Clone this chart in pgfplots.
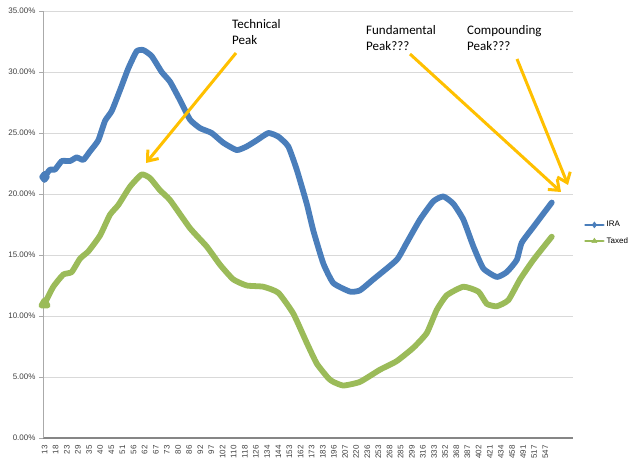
\documentclass[border=0pt]{standalone}
\usepackage{fontspec}
\setmainfont{Carlito}
\newfontfamily\tickfont{Liberation Sans}
\usepackage{pgfplots}
\pgfplotsset{compat=1.18}
\usetikzlibrary{arrows.meta}
\definecolor{irablue}{HTML}{4A7EBB}
\definecolor{taxgreen}{HTML}{9BBB59}
\definecolor{arrowgold}{HTML}{FFC000}
\definecolor{gridgray}{HTML}{D9D9D9}
\definecolor{axisgray}{HTML}{868686}
\definecolor{ticktext}{HTML}{404040}
\begin{document}
\begin{tikzpicture}
\path[use as bounding box] (0pt,0pt) rectangle (640pt,464pt);
\begin{axis}[
  at={(43pt,26pt)}, anchor=south west,
  scale only axis, width=530pt, height=427pt,
  xmin=-0.135, xmax=47.48, ymin=0, ymax=35,
  axis x line*=bottom, axis y line*=left,
  x axis line style={-, line width=2.5pt, draw=axisgray},
  y axis line style={-, line width=0.8pt, draw=axisgray!70},
  ytick={0,5,...,35},
  yticklabels={0.00\%,5.00\%,10.00\%,15.00\%,20.00\%,25.00\%,30.00\%,35.00\%},
  yticklabel style={font=\tickfont\fontsize{8}{9}\selectfont, text=ticktext},
  ymajorgrids, grid style={draw=gridgray, line width=0.9pt},
  major y tick style={draw=axisgray!70, line width=0.8pt},
  tick align=outside, major tick length=4pt,
  xtick={0,...,45},
  xticklabels={13,18,23,29,35,40,45,51,56,62,67,73,80,86,92,97,102,110,118,126,134,144,153,162,173,183,196,207,220,236,253,268,285,299,316,333,352,368,387,402,421,434,458,491,517,547},
  xticklabel style={rotate=90, anchor=east, font=\tickfont\fontsize{8}{9}\selectfont, text=ticktext},
  major x tick style={draw=none},
  legend style={at={(1.015,0.48)}, anchor=west, draw=none, fill=none,
    font=\tickfont\fontsize{8}{9}\selectfont, row sep=5pt},
  legend cell align=left,
  legend image code/.code={
    \draw[#1, line width=2.5pt, mark=none] (0pt,0pt) -- (18pt,0pt);
    \draw[#1, mark size=3pt, line width=0.5pt] plot coordinates {(9pt,0pt)};
  },
]
\addplot[color=irablue, line width=5.8pt, line join=round, line cap=round, smooth, tension=0.3, mark=diamond*, mark repeat=1000, mark size=3pt] table {
x y
0 21.4
0.49 22.0
0.94 22.0
1.55 22.7
2.29 22.7
2.89 23.0
3.49 22.8
4.09 23.5
4.83 24.4
5.44 26.0
6.04 26.8
6.78 28.5
7.53 30.3
8.28 31.7
8.88 31.8
9.63 31.3
10.53 30.0
11.28 29.2
12.17 27.7
13.07 26.1
13.97 25.4
15.02 25.0
16.06 24.2
17.27 23.6
18.17 23.9
19.07 24.4
20.11 25.0
21.01 24.7
21.90 23.9
22.66 22.0
23.56 19.2
24.15 17.0
25.05 14.3
25.95 12.7
27.45 12.0
28.34 12.1
29.54 13.0
31.64 14.6
32.54 16.0
33.73 17.9
34.93 19.4
35.83 19.8
36.73 19.2
37.63 17.9
38.53 15.7
39.42 13.9
40.63 13.2
41.53 13.6
42.43 14.6
42.87 16.0
43.92 17.3
45.57 19.3
};
\addlegendentry{IRA}
\addplot[color=taxgreen, line width=5.8pt, line join=round, line cap=round, smooth, tension=0.3, mark=triangle*, mark repeat=1000, mark size=3.5pt] table {
x y
0 11.0
0.79 12.4
1.69 13.4
2.44 13.6
3.19 14.7
3.94 15.3
4.99 16.6
5.88 18.3
6.63 19.1
7.68 20.6
8.73 21.6
9.48 21.3
10.38 20.3
11.28 19.5
13.07 17.2
14.57 15.7
15.77 14.2
16.96 13.0
18.17 12.5
19.66 12.4
21.01 11.9
22.35 10.2
23.56 7.8
24.46 6.1
25.50 4.9
25.95 4.6
26.85 4.3
28.34 4.6
30.14 5.6
31.64 6.3
33.14 7.4
34.34 8.6
35.24 10.5
36.14 11.7
37.63 12.4
38.98 12.0
39.73 11.0
40.63 10.8
41.67 11.3
42.72 13.0
43.92 14.6
45.57 16.5
};
\addlegendentry{Taxed}
\end{axis}
\begin{scope}[shift={(0pt,464pt)}, x=1pt, y=-1pt]
  \node[anchor=west, align=left, inner sep=0pt, font=\fontsize{13}{16}\selectfont] at (232,32) {Technical\\Peak};
  \node[anchor=west, align=left, inner sep=0pt, font=\fontsize{13}{16}\selectfont] at (366,38) {Fundamental\\Peak???};
  \node[anchor=west, align=left, inner sep=0pt, font=\fontsize{13}{16}\selectfont] at (467,38) {Compounding\\Peak???};
  \draw[arrowgold, line width=3pt, -{Straight Barb[length=9pt, width=14pt, line width=3pt]}] (236,53) -- (146,163);
  \draw[arrowgold, line width=3pt, -{Straight Barb[length=9pt, width=14pt, line width=3pt]}] (410,54) -- (561,192);
  \draw[arrowgold, line width=3pt, -{Straight Barb[length=9pt, width=14pt, line width=3pt]}] (517,59) -- (568,185);
\end{scope}
\end{tikzpicture}
\end{document}
